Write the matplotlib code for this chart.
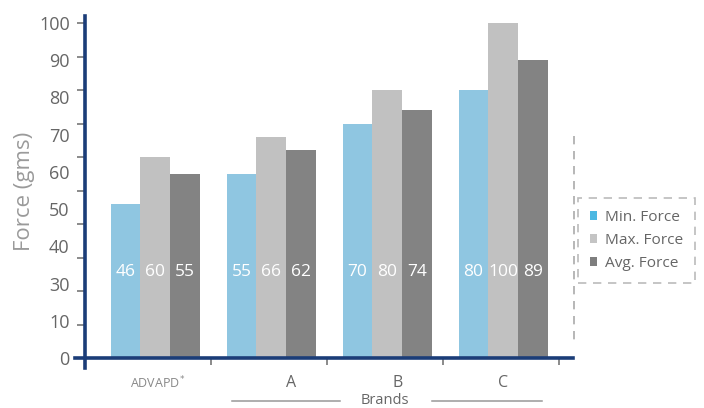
import numpy as np
import matplotlib.pyplot as plt
from matplotlib.patches import Patch
from matplotlib.lines import Line2D

brands = ['ADVAPD$^{*}$', 'A', 'B', 'C']
series = ['Min. Force', 'Max. Force', 'Avg. Force']
min_force = [46, 55, 70, 80]
max_force = [60, 66, 80, 100]
avg_force = [55, 62, 74, 89]
ytick_labels = ['0', '10', '30', '40', '50', '60', '70', '80', '90', '100']

colors = ['#8fc6e1', '#c1c1c1', '#838383']
legend_colors = ['#4cb8e2', '#c4c4c4', '#7e7e7e']
navy = '#1b3d78'
txt = '#666666'

plt.rcParams['font.family'] = ['Open Sans', 'DejaVu Sans']

W, H = 704, 408
fig = plt.figure(figsize=(W / 100, H / 100), dpi=100)
# axes placed so the plotting area matches the reference layout
ax = fig.add_axes([74 / W, (H - 370) / H, (578 - 74) / W, (370 - 12) / H])
ax.set_xlim(-0.681, 3.664)
ax.set_ylim(-3.58, 103.3)

x = np.arange(len(brands))
bw = 0.256
for i, vals in enumerate([min_force, max_force, avg_force]):
    pos = x + (i - 1) * bw + 0.02
    ax.bar(pos, vals, width=bw, color=colors[i], zorder=2)
    for p, v in zip(pos, vals):
        ax.text(p, 25.7, str(v), ha='center', va='center', color='white',
                fontsize=12.5, zorder=3)

# spines
for s in ['top', 'right']:
    ax.spines[s].set_visible(False)
ax.spines['left'].set_position(('data', -0.586))
ax.spines['left'].set_bounds(-3, 102)
ax.spines['bottom'].set_position(('data', 0))
ax.spines['bottom'].set_bounds(-0.672, 3.62)
for s in ['left', 'bottom']:
    ax.spines[s].set_color(navy)
    ax.spines[s].set_linewidth(2.6)
    ax.spines[s].set_zorder(4)

# y ticks: marks on a true 0-100 scale, labels spread evenly
ax.yaxis.remove_overlapping_locs = False
ax.xaxis.remove_overlapping_locs = False
ax.set_yticks(np.arange(0, 101, 10))
ax.set_yticks(np.linspace(0, 100, len(ytick_labels)), minor=True)
ax.set_yticklabels(ytick_labels, minor=True)
ax.tick_params(axis='y', which='major', direction='out', length=6, width=1.2,
               color='#777777', labelleft=False)
ax.tick_params(axis='y', which='minor', length=0, pad=11, labelsize=13,
               labelcolor=txt)

# x ticks: marks between groups, labels at group positions
ax.set_xticks([0.5, 1.5, 2.5, 3.5])
ax.set_xticks([0.04, 1.19, 2.11, 3.02], minor=True)
ax.set_xticklabels(brands, minor=True)
ax.tick_params(axis='x', which='major', direction='out', length=5, width=1.2,
               color='#777777', labelbottom=False)
ax.tick_params(axis='x', which='minor', length=0, pad=12, labelsize=11.5,
               labelcolor=txt)
ax.get_xticklabels(minor=True)[0].set_fontsize(9)
ax.get_xticklabels(minor=True)[0].set_color('#888888')

ax.set_ylabel('Force (gms)', fontsize=16, color='#9a9a9a')
ax.yaxis.set_label_coords(-0.077, 0.5)

# Brands label with rules on both sides
fig.text(385 / W, 1 - 400 / H, 'Brands', ha='center', va='center',
         fontsize=10.5, color=txt)
for x0, x1 in [(232, 340), (432, 542)]:
    fig.add_artist(Line2D([x0 / W, x1 / W], [1 - 401 / H, 1 - 401 / H],
                          transform=fig.transFigure, color='#999999', lw=1.1))

# dashed guide line left of legend
fig.add_artist(Line2D([574 / W, 574 / W], [1 - 136 / H, 1 - 343 / H],
                      transform=fig.transFigure, color='#aaaaaa', lw=1.2,
                      ls=(0, (5, 4))))

handles = [Patch(facecolor=c, edgecolor='none') for c in legend_colors]
leg = fig.legend(handles, series, loc='upper left',
                 bbox_to_anchor=(578 / W, 1 - 198 / H), borderaxespad=0,
                 fontsize=11.1, handlelength=0.45, handleheight=0.5,
                 handletextpad=0.5, labelspacing=0.5, borderpad=0.8,
                 frameon=True, fancybox=False, labelcolor=txt)
fr = leg.get_frame()
fr.set_edgecolor('#aaaaaa')
fr.set_linewidth(1.2)
fr.set_linestyle((0, (5, 4)))

fig.savefig('out.png', dpi=100)
